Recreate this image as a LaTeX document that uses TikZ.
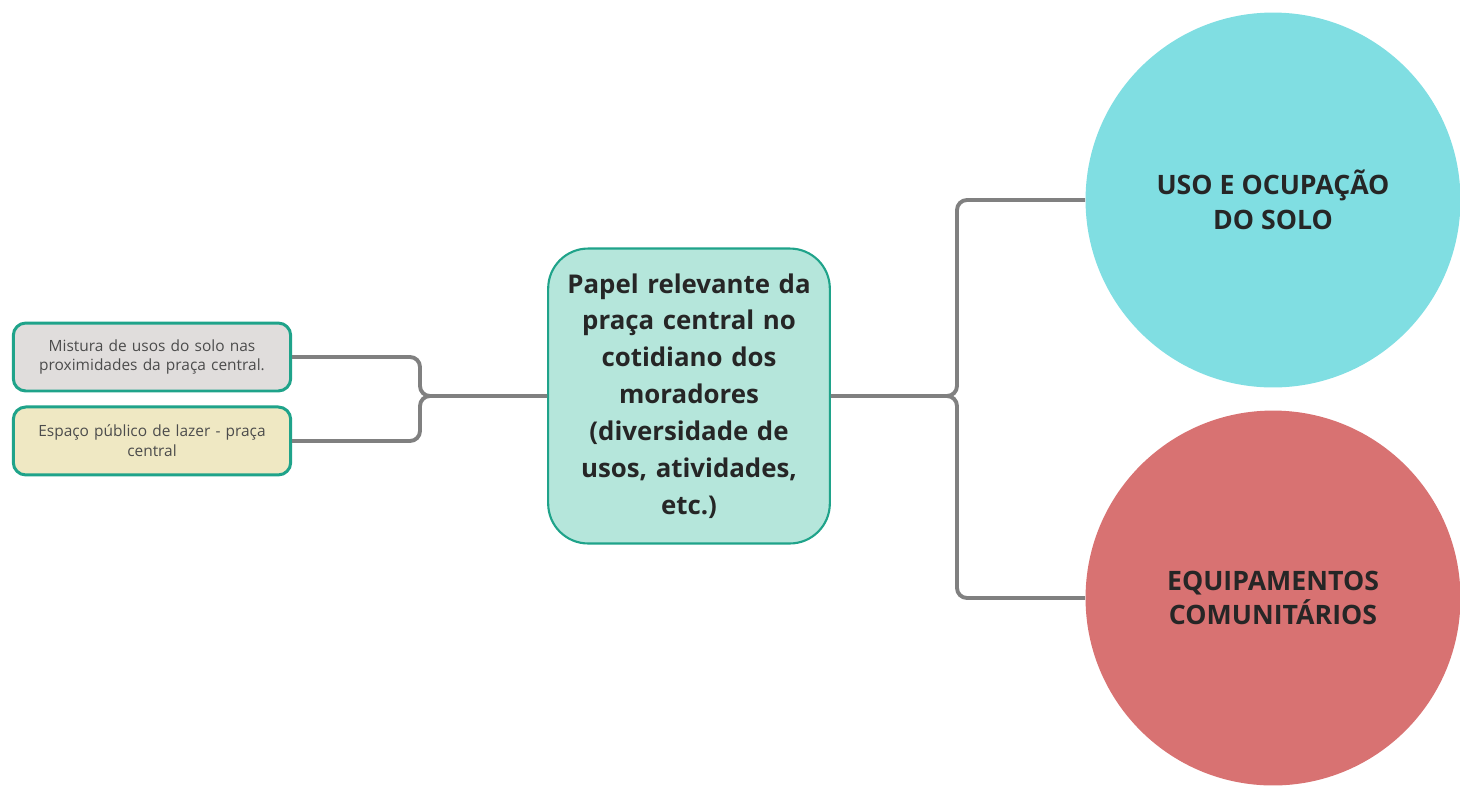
\documentclass[tikz,border=0pt]{standalone}
\usepackage{fontspec}
\setmainfont{Open Sans}
\usepackage{xcolor}
\usetikzlibrary{positioning}

\definecolor{tealline}{HTML}{1FA38A}
\definecolor{mintfill}{HTML}{B5E6DB}
\definecolor{greyfill}{HTML}{E0DDDC}
\definecolor{sandfill}{HTML}{EFE8C3}
\definecolor{cyanfill}{HTML}{80DEE2}
\definecolor{rosefill}{HTML}{D87272}
\definecolor{linkgrey}{HTML}{808080}

\begin{document}
\begin{tikzpicture}[
        x=0.02cm, y=-0.02cm,
        leaf/.style={rectangle, draw=tealline, line width=1.7pt, rounded corners=0.25cm, minimum width=5.55cm, minimum height=1.36cm, text width=5.3cm, align=center, text=black!70, font=\fontsize{8.8}{11.3}\selectfont},
        hub/.style={rectangle, draw=tealline, line width=1.2pt, fill=mintfill, rounded corners=0.8cm, minimum width=5.6cm, minimum height=5.9cm, text width=5.4cm, align=center, text=black!85, font=\bfseries\fontsize{14.7}{21}\selectfont},
        topic/.style={circle, inner sep=0pt, minimum size=7.5cm, align=center, text=black!85, font=\bfseries\fontsize{15.2}{19.8}\selectfont},
        conn/.style={draw=linkgrey, line width=2.2pt, rounded corners=0.2cm},
    ]
        \useasboundingbox (0,0) rectangle (1460,789);

        % Central idea
        \node[hub] (papel) at (689,396) {Papel relevante da\\praça central no\\cotidiano dos\\moradores\\(diversidade de\\usos, atividades,\\etc.)};

        % Left branch
        \node[leaf, fill=greyfill] (mistura) at (152,357) {Mistura de usos do solo nas\\proximidades da praça central.};
        \node[leaf, fill=sandfill, below=0.26cm of mistura] (espaco) {Espaço público de lazer - praça\\central};

        % Right branch
        \node[topic, fill=cyanfill] (uso) at (1273,200) {USO E OCUPAÇÃO\\DO SOLO};
        \node[topic, fill=rosefill] (equip) at (1273,598) {EQUIPAMENTOS\\COMUNITÁRIOS};

        % Junctions
        \coordinate (jleft) at (420,396);
        \coordinate (jright) at (957,396);

        % Connectors
        \draw[conn] (mistura.east) -| (jleft) -- (papel.west);
        \draw[conn] (espaco.east) -| (jleft) -- (papel.west);
        \draw[conn] (papel.east) -- (jright) |- (uso.west);
        \draw[conn] (papel.east) -- (jright) |- (equip.west);
    \end{tikzpicture}
\end{document}
